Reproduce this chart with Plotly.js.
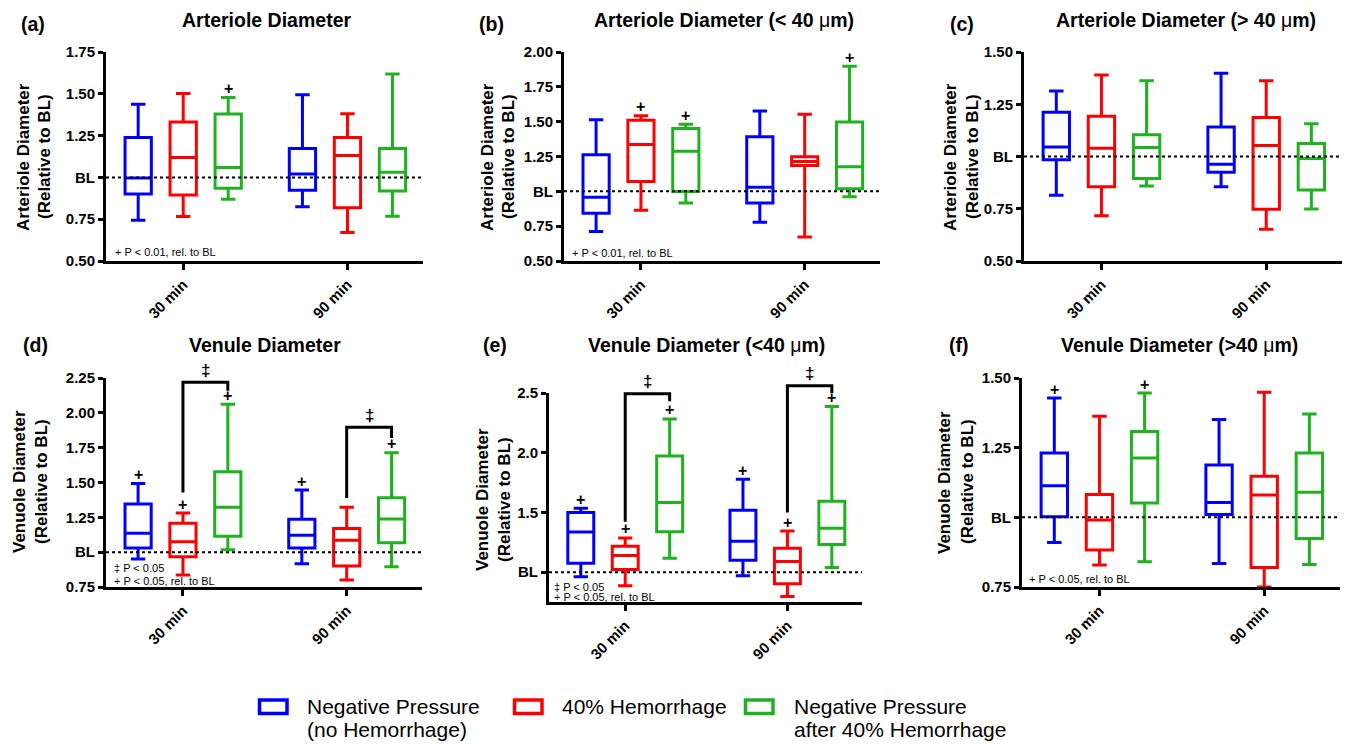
<!DOCTYPE html>
<html><head><meta charset="utf-8">
<script src="https://cdn.plot.ly/plotly-3.0.1.min.js"></script>
<style>html,body{margin:0;padding:0;background:#fff;}#chart{width:1346px;height:746px;}</style>
</head><body><div id="chart"></div>
<script>
// ---------- DATA ----------
const categories = ['30 min', '90 min'];
const seriesColors = ['#0000ff', '#ff0000', '#1fb21f'];
const legendLine1 = ['Negative Pressure', '40% Hemorrhage', 'Negative Pressure'];
const legendLine2 = ['(no Hemorrhage)', '', 'after 40% Hemorrhage'];

// [series][category]  series: NP (no hem), 40% Hem, NP after 40% Hem
// (a) Arteriole Diameter
const aLower  = [[0.744, 0.825], [0.766, 0.670], [0.869, 0.768]];
const aQ1     = [[0.901, 0.923], [0.895, 0.819], [0.935, 0.919]];
const aMedian = [[0.997, 1.021], [1.119, 1.131], [1.059, 1.031]];
const aQ3     = [[1.239, 1.173], [1.331, 1.239], [1.379, 1.173]];
const aUpper  = [[1.438, 1.494], [1.502, 1.381], [1.478, 1.618]];
const aSig    = [[0, 0], [0, 0], [1, 0]];
const aTickVals = [0.5, 0.75, 1, 1.25, 1.5, 1.75];
const aTickText = ['0.50', '0.75', 'BL', '1.25', '1.50', '1.75'];

// (b) Arteriole Diameter (< 40 um)
const bLower  = [[0.711, 0.778], [0.864, 0.673], [0.917, 0.962]];
const bQ1     = [[0.843, 0.917], [1.070, 1.185], [0.998, 1.018]];
const bMedian = [[0.958, 1.030], [1.336, 1.214], [1.288, 1.176]];
const bQ3     = [[1.262, 1.391], [1.511, 1.248], [1.451, 1.497]];
const bUpper  = [[1.513, 1.576], [1.542, 1.554], [1.482, 1.897]];
const bSig    = [[0, 0], [1, 0], [1, 1]];
const bTickVals = [0.5, 0.75, 1, 1.25, 1.5, 1.75, 2.0];
const bTickText = ['0.50', '0.75', 'BL', '1.25', '1.50', '1.75', '2.00'];

// (c) Arteriole Diameter (> 40 um)
const cLower  = [[0.815, 0.855], [0.716, 0.652], [0.859, 0.749]];
const cQ1     = [[0.984, 0.925], [0.855, 0.748], [0.895, 0.840]];
const cMedian = [[1.046, 0.963], [1.040, 1.053], [1.043, 0.990]];
const cQ3     = [[1.212, 1.141], [1.192, 1.187], [1.104, 1.062]];
const cUpper  = [[1.313, 1.398], [1.390, 1.363], [1.363, 1.157]];
const cSig    = [[0, 0], [0, 0], [0, 0]];
const cTickVals = [0.5, 0.75, 1, 1.25, 1.5];
const cTickText = ['0.50', '0.75', 'BL', '1.25', '1.50'];

// (d) Venule Diameter
const dLower  = [[0.951, 0.917], [0.836, 0.800], [1.018, 0.896]];
const dQ1     = [[1.030, 1.030], [0.968, 0.901], [1.114, 1.068]];
const dMedian = [[1.135, 1.121], [1.075, 1.085], [1.322, 1.238]];
const dQ3     = [[1.346, 1.236], [1.207, 1.169], [1.578, 1.391]];
const dUpper  = [[1.492, 1.446], [1.281, 1.322], [2.061, 1.714]];
const dSig    = [[1, 1], [1, 0], [1, 1]];
const dBracketStart = [1.429, 1.389];
const dBracketTop   = [2.219, 1.896];
const dBracketEnd   = [2.159, 1.819];
const dTickVals = [0.75, 1, 1.25, 1.5, 1.75, 2.0, 2.25];
const dTickText = ['0.75', 'BL', '1.25', '1.50', '1.75', '2.00', '2.25'];

// (e) Venule Diameter (<40 um)
const eLower  = [[0.961, 0.969], [0.886, 0.797], [1.117, 1.039]];
const eQ1     = [[1.075, 1.100], [1.022, 0.903], [1.339, 1.231]];
const eMedian = [[1.336, 1.258], [1.139, 1.089], [1.583, 1.367]];
const eQ3     = [[1.500, 1.519], [1.217, 1.200], [1.972, 1.594]];
const eUpper  = [[1.536, 1.778], [1.286, 1.344], [2.283, 2.386]];
const eSig    = [[1, 1], [1, 1], [1, 1]];
const eBracketStart = [1.422, 1.500];
const eBracketTop   = [2.494, 2.561];
const eBracketEnd   = [2.431, 2.500];
const eTickVals = [1, 1.5, 2.0, 2.5];
const eTickText = ['BL', '1.5', '2.0', '2.5'];

// (f) Venule Diameter (>40 um)
const fLower  = [[0.910, 0.834], [0.829, 0.750], [0.841, 0.831]];
const fQ1     = [[1.002, 1.010], [0.883, 0.820], [1.051, 0.924]];
const fMedian = [[1.113, 1.053], [0.990, 1.080], [1.213, 1.090]];
const fQ3     = [[1.231, 1.188], [1.082, 1.147], [1.308, 1.231]];
const fUpper  = [[1.428, 1.351], [1.363, 1.449], [1.446, 1.371]];
const fSig    = [[1, 0], [0, 0], [1, 0]];
const fTickVals = [0.75, 1, 1.25, 1.5];
const fTickText = ['0.75', 'BL', '1.25', '1.50'];

// ---------- LAYOUT CONFIG ----------
const W = 1346, H = 746;
const FONT = 'Liberation Sans, Arial, Helvetica, sans-serif';
const XR = [-0.47, 1.46];
const OFFS = [-0.274, 0, 0.274];

const panels = [
  {letter: '(a)', title: '<b>Arteriole Diameter</b>', yt: ['Arteriole Diameter', '(Relative to BL)'],
   lower: aLower, q1: aQ1, median: aMedian, q3: aQ3, upper: aUpper, sig: aSig, tv: aTickVals, tt: aTickText,
   range: [0.5, 1.75], box: [106, 423, 52, 261], titlePos: [266, 20], letterPos: [33, 24],
   ytPos: [[23, 157], [44, 157]], notes: [['+ P &lt; 0.01, rel. to BL', 113, 252]]},
  {letter: '(b)', title: '<b>Arteriole Diameter (&lt; 40 </b>μ<b>m)</b>', yt: ['Arteriole Diameter', '(Relative to BL)'],
   lower: bLower, q1: bQ1, median: bMedian, q3: bQ3, upper: bUpper, sig: bSig, tv: bTickVals, tt: bTickText,
   range: [0.5, 2.0], box: [564, 880, 52, 261], titlePos: [724, 20], letterPos: [491, 24],
   ytPos: [[487, 157], [508, 157]], notes: [['+ P &lt; 0.01, rel. to BL', 570, 253]]},
  {letter: '(c)', title: '<b>Arteriole Diameter (&gt; 40 </b>μ<b>m)</b>', yt: ['Arteriole Diameter', '(Relative to BL)'],
   lower: cLower, q1: cQ1, median: cMedian, q3: cQ3, upper: cUpper, sig: cSig, tv: cTickVals, tt: cTickText,
   range: [0.5, 1.5], box: [1024, 1342, 52, 261], titlePos: [1186, 20], letterPos: [962, 24],
   ytPos: [[950, 157], [972, 157]], notes: []},
  {letter: '(d)', title: '<b>Venule Diameter</b>', yt: ['Venuole Diameter', '(Relative to BL)'],
   lower: dLower, q1: dQ1, median: dMedian, q3: dQ3, upper: dUpper, sig: dSig, tv: dTickVals, tt: dTickText,
   range: [0.75, 2.25], box: [106, 422, 378, 587], titlePos: [265, 345], letterPos: [35, 345],
   ytPos: [[19, 482], [41, 482]], notes: [['‡ P &lt; 0.05', 112, 568], ['+ P &lt; 0.05, rel. to BL', 112, 581]],
   bracket: [dBracketStart, dBracketTop, dBracketEnd]},
  {letter: '(e)', title: '<b>Venule Diameter (&lt;40 </b>μ<b>m)</b>', yt: ['Venuole Diameter', '(Relative to BL)'],
   lower: eLower, q1: eQ1, median: eMedian, q3: eQ3, upper: eUpper, sig: eSig, tv: eTickVals, tt: eTickText,
   range: [0.75, 2.5], box: [549, 862, 393, 602], titlePos: [706, 345], letterPos: [495, 345],
   ytPos: [[482, 500], [504, 500]], notes: [['‡ P &lt; 0.05', 552, 587], ['+ P &lt; 0.05, rel. to BL', 552, 597]],
   bracket: [eBracketStart, eBracketTop, eBracketEnd]},
  {letter: '(f)', title: '<b>Venule Diameter (&gt;40 </b>μ<b>m)</b>', yt: ['Venuole Diameter', '(Relative to BL)'],
   lower: fLower, q1: fQ1, median: fMedian, q3: fQ3, upper: fUpper, sig: fSig, tv: fTickVals, tt: fTickText,
   range: [0.75, 1.5], box: [1022, 1340, 378, 587], titlePos: [1179, 345], letterPos: [958, 345],
   ytPos: [[944, 482], [967, 482]], notes: [['+ P &lt; 0.05, rel. to BL', 1027, 579]]}
];

const PX = v => v / W;
const PY = v => 1 - v / H;

const traces = [], shapes = [], annotations = [];
const layout = {
  width: W, height: H, autosize: false,
  margin: {l: 0, r: 0, t: 0, b: 0},
  paper_bgcolor: '#fff', plot_bgcolor: 'rgba(0,0,0,0)',
  font: {family: FONT, color: '#000'},
  showlegend: false, boxmode: 'overlay', hovermode: false
};

panels.forEach((p, i) => {
  const k = i === 0 ? '' : String(i + 1);
  const [bx0, bx1, by0, by1] = p.box;
  const dataX = xv => bx0 + (xv - XR[0]) / (XR[1] - XR[0]) * (bx1 - bx0);
  const dataY = v => by1 - (v - p.range[0]) / (p.range[1] - p.range[0]) * (by1 - by0);

  layout['xaxis' + k] = {
    domain: [PX(bx0), PX(bx1)], range: XR, anchor: 'y' + k,
    showline: true, linewidth: 3, linecolor: '#000', showgrid: false, zeroline: false,
    ticks: 'outside', ticklen: 6, tickwidth: 3, tickcolor: '#000',
    tickmode: 'array', tickvals: categories.map((c, j) => j), ticktext: categories,
    tickangle: -45, tickfont: {family: FONT, size: 15, color: '#000', weight: 'bold'}, fixedrange: true
  };
  layout['yaxis' + k] = {
    domain: [PY(by1), PY(by0)], range: p.range, anchor: 'x' + k,
    showline: true, linewidth: 3, linecolor: '#000', showgrid: false, zeroline: false,
    ticks: 'outside', ticklen: 5, tickwidth: 3, tickcolor: '#000',
    tickmode: 'array', tickvals: p.tv, ticktext: p.tt,
    tickfont: {family: FONT, size: 15, color: '#000', weight: 'bold'}, fixedrange: true
  };

  for (let s = 0; s < 3; s++) {
    traces.push({
      type: 'box', orientation: 'v', xaxis: 'x' + k, yaxis: 'y' + k,
      x: categories.map((c, j) => j + OFFS[s]),
      q1: p.q1[s], median: p.median[s], q3: p.q3[s],
      lowerfence: p.lower[s], upperfence: p.upper[s],
      boxpoints: false, width: 0.16, whiskerwidth: 0.55,
      line: {color: seriesColors[s], width: 3}, fillcolor: 'rgba(255,255,255,0)',
      hoverinfo: 'skip', showlegend: false
    });
  }

  // BL dotted line
  shapes.push({type: 'line', xref: 'x' + k, yref: 'y' + k, x0: XR[0], x1: XR[1], y0: 1, y1: 1,
    line: {color: '#000', width: 2, dash: 'dot'}, layer: 'above'});

  // significance '+'
  for (let s = 0; s < 3; s++) {
    categories.forEach((c, j) => {
      if (p.sig[s][j]) {
        annotations.push({xref: 'paper', yref: 'paper', x: PX(dataX(j + OFFS[s])), y: PY(dataY(p.upper[s][j]) - 9),
          text: '<b>+</b>', showarrow: false, xanchor: 'center', yanchor: 'middle',
          font: {family: FONT, size: 16, color: '#000'}});
      }
    });
  }

  // brackets
  if (p.bracket) {
    categories.forEach((c, j) => {
      const xr = dataX(j + OFFS[1]), xg = dataX(j + OFFS[2]);
      const yS = dataY(p.bracket[0][j]), yT = dataY(p.bracket[1][j]), yE = dataY(p.bracket[2][j]);
      shapes.push({type: 'path', xref: 'paper', yref: 'paper',
        path: `M ${PX(xr)} ${PY(yS)} L ${PX(xr)} ${PY(yT)} L ${PX(xg)} ${PY(yT)} L ${PX(xg)} ${PY(yE)}`,
        line: {color: '#000', width: 3}});
      annotations.push({xref: 'paper', yref: 'paper', x: PX((xr + xg) / 2), y: PY(yT - 12),
        text: '<b>‡</b>', showarrow: false, xanchor: 'center', yanchor: 'middle',
        font: {family: FONT, size: 17, color: '#000'}});
    });
  }

  // titles
  annotations.push({xref: 'paper', yref: 'paper', x: PX(p.titlePos[0]), y: PY(p.titlePos[1]), text: p.title,
    showarrow: false, xanchor: 'center', yanchor: 'middle', font: {family: FONT, size: 19.5, color: '#000'}});
  annotations.push({xref: 'paper', yref: 'paper', x: PX(p.letterPos[0]), y: PY(p.letterPos[1]), text: '<b>' + p.letter + '</b>',
    showarrow: false, xanchor: 'center', yanchor: 'middle', font: {family: FONT, size: 19.5, color: '#000'}});
  p.yt.forEach((t, j) => {
    annotations.push({xref: 'paper', yref: 'paper', x: PX(p.ytPos[j][0]), y: PY(p.ytPos[j][1]), text: '<b>' + t + '</b>',
      textangle: -90, showarrow: false, xanchor: 'center', yanchor: 'middle', font: {family: FONT, size: 17, color: '#000'}});
  });
  p.notes.forEach(n => {
    annotations.push({xref: 'paper', yref: 'paper', x: PX(n[1]), y: PY(n[2]), text: n[0],
      showarrow: false, xanchor: 'left', yanchor: 'middle', font: {family: FONT, size: 11, color: '#000'}});
  });
});

// legend (custom)
const legIconX = [259.5, 514.5, 745.5];
const legTextX = [305, 560, 792];
seriesColors.forEach((col, s) => {
  shapes.push({type: 'rect', xref: 'paper', yref: 'paper',
    x0: PX(legIconX[s]), x1: PX(legIconX[s] + 27.5), y0: PY(700), y1: PY(713.5),
    line: {color: col, width: 3.5}, fillcolor: 'rgba(0,0,0,0)'});
  annotations.push({xref: 'paper', yref: 'paper', x: PX(legTextX[s]), y: PY(706), text: legendLine1[s],
    showarrow: false, xanchor: 'left', yanchor: 'middle', font: {family: FONT, size: 21, color: '#000'}});
  if (legendLine2[s]) {
    annotations.push({xref: 'paper', yref: 'paper', x: PX(legTextX[s]), y: PY(729), text: legendLine2[s],
      showarrow: false, xanchor: 'left', yanchor: 'middle', font: {family: FONT, size: 21, color: '#000'}});
  }
});

layout.shapes = shapes;
layout.annotations = annotations;

Plotly.newPlot('chart', traces, layout, {staticPlot: true, displayModeBar: false});
</script>
</body></html>
